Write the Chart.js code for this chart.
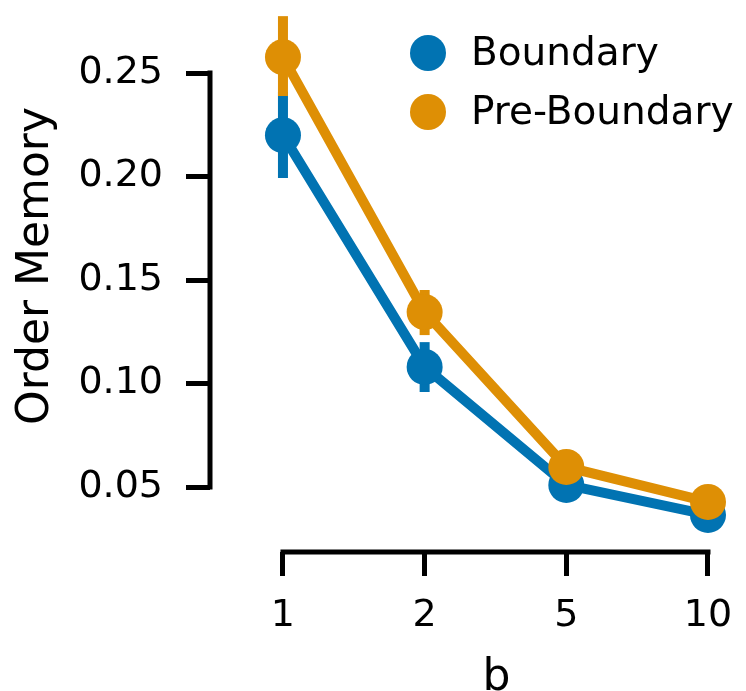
<!DOCTYPE html>
<html>
<head>
<meta charset="utf-8">
<script src="https://cdn.jsdelivr.net/npm/chart.js@4.4.0/dist/chart.umd.min.js"></script>
<style>
  html, body { margin: 0; padding: 0; background: #fff; }
  #wrap { width: 746px; height: 691px; }
</style>
</head>
<body>
<div id="wrap"><canvas id="chart" width="746" height="691"></canvas></div>
<script>
// Datos
const categorias = ['1', '2', '5', '10'];
const seriesNombres = ['Boundary', 'Pre-Boundary'];
const boundary = [0.220, 0.108, 0.051, 0.0365];
const preBoundary = [0.2577, 0.1345, 0.0597, 0.0428];
const boundaryBajo = [0.1993, 0.0959, 0.0482, 0.0342];
const boundaryAlto = [0.2408, 0.1200, 0.0540, 0.0390];
const preBajo = [0.2389, 0.1234, 0.0570, 0.0405];
const preAlto = [0.2775, 0.1452, 0.0625, 0.0452];
const yTicks = [0.05, 0.10, 0.15, 0.20, 0.25];
const tituloX = 'b';
const tituloY = 'Order Memory';

const AZUL = '#0173b2';
const NARANJA = '#de8f05';
const FUENTE = 'DejaVu Sans';
const TAM_TICKS = 38;
const TAM_TITULO = 44;
const TAM_LEYENDA = 39;

Chart.defaults.font.family = FUENTE;
Chart.defaults.color = '#000';

const errores = [
    { bajo: boundaryBajo, alto: boundaryAlto },
    { bajo: preBajo, alto: preAlto }
];

// Barras de error, dibujadas justo antes de cada serie
const pluginErrores = {
    id: 'errores',
    beforeDatasetDraw(chart, args) {
        const err = errores[args.index];
        if (!err) return;
        const ctx = chart.ctx;
        const xs = chart.scales.x;
        const ys = chart.scales.y;
        ctx.save();
        ctx.strokeStyle = chart.data.datasets[args.index].borderColor;
        ctx.lineWidth = 10;
        ctx.lineCap = 'butt';
        err.bajo.forEach((b, i) => {
            const x = xs.getPixelForValue(i);
            ctx.beginPath();
            ctx.moveTo(x, ys.getPixelForValue(b));
            ctx.lineTo(x, ys.getPixelForValue(err.alto[i]));
            ctx.stroke();
        });
        ctx.restore();
    }
};

// Ejes recortados (estilo despine trim) y títulos de ejes
const pluginEjes = {
    id: 'ejes',
    afterDraw(chart) {
        const ctx = chart.ctx;
        const xs = chart.scales.x;
        const ys = chart.scales.y;
        const area = chart.chartArea;
        ctx.save();
        ctx.strokeStyle = '#000';
        ctx.lineWidth = 5;
        ctx.lineCap = 'square';
        ctx.beginPath();
        ctx.moveTo(area.left, ys.getPixelForValue(yTicks[0]));
        ctx.lineTo(area.left, ys.getPixelForValue(yTicks[yTicks.length - 1]));
        ctx.stroke();
        const x0 = xs.getPixelForValue(0);
        const x1 = xs.getPixelForValue(categorias.length - 1);
        ctx.beginPath();
        ctx.moveTo(x0, area.bottom);
        ctx.lineTo(x1, area.bottom);
        ctx.stroke();

        // títulos
        ctx.fillStyle = '#000';
        ctx.font = TAM_TITULO + 'px "' + FUENTE + '"';
        ctx.textAlign = 'center';
        ctx.textBaseline = 'alphabetic';
        ctx.fillText(tituloX, (x0 + x1) / 2 + 1, 690);
        ctx.translate(48, 266);
        ctx.rotate(-Math.PI / 2);
        ctx.fillText(tituloY, 0, 0);
        ctx.restore();
    }
};

// Leyenda dentro del área del gráfico
const pluginLeyenda = {
    id: 'leyenda',
    afterDraw(chart) {
        const ctx = chart.ctx;
        ctx.save();
        ctx.font = TAM_LEYENDA + 'px "' + FUENTE + '"';
        ctx.textBaseline = 'middle';
        ctx.textAlign = 'left';
        chart.data.datasets.forEach((ds, i) => {
            const y = 53 + i * 59;
            ctx.fillStyle = ds.borderColor;
            ctx.beginPath();
            ctx.arc(428, y, 18, 0, Math.PI * 2);
            ctx.fill();
            ctx.fillStyle = '#000';
            ctx.fillText(ds.label, 471, y + 2);
        });
        ctx.restore();
    }
};

function serie(valores) {
    return valores.map((v, i) => ({ x: i, y: v }));
}

const ctx = document.getElementById('chart').getContext('2d');
new Chart(ctx, {
    type: 'line',
    data: {
        datasets: [
            {
                label: seriesNombres[0],
                data: serie(boundary),
                borderColor: AZUL,
                backgroundColor: AZUL,
                borderWidth: 10,
                pointRadius: 18,
                pointBorderWidth: 0,
                pointBackgroundColor: AZUL,
                tension: 0,
                order: 2
            },
            {
                label: seriesNombres[1],
                data: serie(preBoundary),
                borderColor: NARANJA,
                backgroundColor: NARANJA,
                borderWidth: 10,
                pointRadius: 18,
                pointBorderWidth: 0,
                pointBackgroundColor: NARANJA,
                tension: 0,
                order: 1
            }
        ]
    },
    options: {
        responsive: false,
        devicePixelRatio: 1,
        animation: false,
        layout: {
            autoPadding: false,
            padding: { left: 0, right: 6, top: 0, bottom: 0 }
        },
        plugins: {
            legend: { display: false },
            tooltip: { enabled: false }
        },
        scales: {
            x: {
                type: 'linear',
                min: -0.515,
                max: 3.226,
                afterFit: (scale) => {
                    scale.height = 139;
                    scale.paddingLeft = 0;
                    scale.paddingRight = 0;
                },
                afterBuildTicks: (scale) => {
                    scale.ticks = categorias.map((c, i) => ({ value: i }));
                },
                ticks: {
                    font: { size: TAM_TICKS },
                    padding: 17,
                    maxRotation: 0,
                    callback: (v) => categorias[v]
                },
                grid: {
                    drawOnChartArea: false,
                    drawTicks: true,
                    tickLength: 24,
                    tickWidth: 5,
                    tickColor: '#000'
                },
                border: { display: false },
                title: { display: false }
            },
            y: {
                min: 0.0186,
                max: 0.2853,
                afterFit: (scale) => {
                    scale.width = 210;
                    scale.paddingTop = 0;
                    scale.paddingBottom = 0;
                },
                afterBuildTicks: (scale) => {
                    scale.ticks = yTicks.map(v => ({ value: v }));
                },
                ticks: {
                    font: { size: TAM_TICKS },
                    padding: 23,
                    callback: (v) => v.toFixed(2)
                },
                grid: {
                    drawOnChartArea: false,
                    drawTicks: true,
                    tickLength: 24,
                    tickWidth: 5,
                    tickColor: '#000'
                },
                border: { display: false },
                title: { display: false }
            }
        }
    },
    plugins: [pluginErrores, pluginEjes, pluginLeyenda]
});
</script>
</body>
</html>
